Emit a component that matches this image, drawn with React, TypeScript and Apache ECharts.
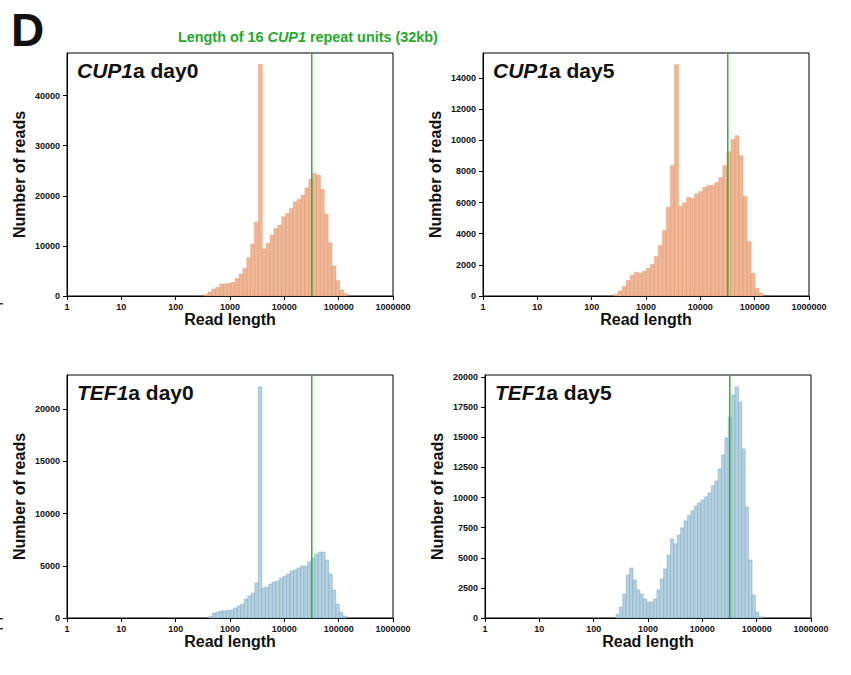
import React, { useEffect, useRef } from "react";
import * as echarts from "echarts";

// ---- data ----
const X_TICKS = [1, 10, 100, 1000, 10000, 100000, 1000000];
const CUP1_REPEAT_LENGTH = 32000; // 16 CUP1 repeat units (32kb)

// Histogram bins are uniform in log10(read length): first edge + bin step (log10 units)
const CUP1_DAY0_LOG_START = 2.525;
const CUP1_DAY0_LOG_STEP = 0.0713;
const CUP1_DAY0_COUNTS = [
  330, 800, 1400, 1730, 2390, 2390, 2520, 2720, 3520, 4380, 5510, 7640, 10360, 14740, 46200,
  9360, 10490, 12150, 13480, 14140, 15800, 16470, 17460, 18790, 19260, 20120, 21580, 23310,
  24440, 24100, 21310, 16330, 10620, 5980, 3050, 1200, 460,
];
const CUP1_DAY0_Y_TICKS = [0, 10000, 20000, 30000, 40000];
const CUP1_DAY0_Y_MAX = 48500;

const CUP1_DAY5_LOG_START = 2.411;
const CUP1_DAY5_LOG_STEP = 0.0742;
const CUP1_DAY5_COUNTS = [
  100, 320, 600, 1000, 1320, 1520, 1460, 1580, 1780, 2020, 2530, 3240, 4200, 5690, 8370, 14850,
  5750, 5980, 6330, 6260, 6560, 6700, 6970, 7090, 7090, 7290, 7610, 8370, 9270, 10050, 10290,
  9010, 6390, 3500, 1460, 490, 170,
];
const CUP1_DAY5_Y_TICKS = [0, 2000, 4000, 6000, 8000, 10000, 12000, 14000];
const CUP1_DAY5_Y_MAX = 15600;

const TEF1_DAY0_LOG_START = 2.614;
const TEF1_DAY0_LOG_STEP = 0.0648;
const TEF1_DAY0_COUNTS = [
  160, 480, 575, 670, 670, 730, 770, 960, 1150, 1340, 1820, 2110, 2390, 3350, 22130, 2870, 2970,
  3260, 3450, 3540, 3830, 4020, 4210, 4500, 4600, 4790, 4980, 4980, 5360, 5750, 6130, 6320, 6320,
  5560, 4210, 2680, 1340, 575, 190,
];
const TEF1_DAY0_Y_TICKS = [0, 5000, 10000, 15000, 20000];
const TEF1_DAY0_Y_MAX = 23270;

const TEF1_DAY5_LOG_START = 2.411;
const TEF1_DAY5_LOG_STEP = 0.0626;
const TEF1_DAY5_COUNTS = [
  300, 910, 1990, 3570, 4150, 3160, 2330, 1990, 1580, 1330, 1330, 1580, 2330, 3240, 4070, 5230,
  6560, 6150, 6890, 7480, 8060, 8500, 8890, 9300, 9550, 9800, 10050, 10380, 10970, 11380, 12380,
  13540, 14950, 16700, 18520, 19190, 17940, 14040, 9220, 4820, 1910, 500, 100,
];
const TEF1_DAY5_Y_TICKS = [0, 2500, 5000, 7500, 10000, 12500, 15000, 17500, 20000];
const TEF1_DAY5_Y_MAX = 20170;

// ---- styles / layout ----
const FONT = "'Liberation Sans', Arial, Helvetica, sans-serif";
const ORANGE = { fill: "#EDB899", edge: "rgba(226,125,72,0.55)" };
const BLUE = { fill: "#B5D1DF", edge: "rgba(112,160,190,0.7)" };
const GREEN_LINE = "#2BB43A";
const GREEN_TEXT = "#1FAA2D";

const PANELS = [
  { gene: "CUP1", rest: "a day0", logStart: CUP1_DAY0_LOG_START, logStep: CUP1_DAY0_LOG_STEP, counts: CUP1_DAY0_COUNTS, yTicks: CUP1_DAY0_Y_TICKS, yMax: CUP1_DAY0_Y_MAX, color: ORANGE, grid: { left: 67, top: 53, width: 326, height: 243 } },
  { gene: "CUP1", rest: "a day5", logStart: CUP1_DAY5_LOG_START, logStep: CUP1_DAY5_LOG_STEP, counts: CUP1_DAY5_COUNTS, yTicks: CUP1_DAY5_Y_TICKS, yMax: CUP1_DAY5_Y_MAX, color: ORANGE, grid: { left: 483, top: 53, width: 326, height: 243 } },
  { gene: "TEF1", rest: "a day0", logStart: TEF1_DAY0_LOG_START, logStep: TEF1_DAY0_LOG_STEP, counts: TEF1_DAY0_COUNTS, yTicks: TEF1_DAY0_Y_TICKS, yMax: TEF1_DAY0_Y_MAX, color: BLUE, grid: { left: 67, top: 375, width: 326, height: 243 } },
  { gene: "TEF1", rest: "a day5", logStart: TEF1_DAY5_LOG_START, logStep: TEF1_DAY5_LOG_STEP, counts: TEF1_DAY5_COUNTS, yTicks: TEF1_DAY5_Y_TICKS, yMax: TEF1_DAY5_Y_MAX, color: BLUE, grid: { left: 485, top: 375, width: 326, height: 243 } },
];

function buildOption() {
  const grid: any[] = [];
  const xAxis: any[] = [];
  const yAxis: any[] = [];
  const series: any[] = [];
  const title: any[] = [];

  title.push({
    text: "D",
    left: 11,
    top: 7,
    padding: 0,
    textStyle: { fontSize: 46, fontWeight: "bold", color: "#111", fontFamily: FONT },
  });
  title.push({
    text: "{n|Length of 16 }{i|CUP1}{n| repeat units (32kb)}",
    left: 178,
    top: 30,
    padding: 0,
    textStyle: {
      rich: {
        n: { fontSize: 14.4, fontWeight: "bold", color: GREEN_TEXT, fontFamily: FONT },
        i: { fontSize: 14.4, fontWeight: "bold", fontStyle: "italic", color: GREEN_TEXT, fontFamily: FONT },
      },
    },
  });

  PANELS.forEach((p, i) => {
    grid.push({ ...p.grid, show: true, borderColor: "#000", borderWidth: 1, backgroundColor: "transparent" });
    xAxis.push({
      type: "log",
      logBase: 10,
      gridIndex: i,
      min: 1,
      max: 1000000,
      name: "Read length",
      nameLocation: "middle",
      nameGap: 14,
      nameTextStyle: { fontSize: 16, fontWeight: "bold", color: "#111", fontFamily: FONT },
      axisLine: { show: true, lineStyle: { color: "#000", width: 1 } },
      axisTick: { show: true, length: 4, lineStyle: { color: "#000" }, customValues: X_TICKS },
      axisLabel: {
        customValues: X_TICKS,
        formatter: (v: number) => String(Math.round(v)),
        fontSize: 9,
        fontWeight: "bold",
        color: "#111",
        margin: 6,
        fontFamily: FONT,
      },
      splitLine: { show: false },
      minorTick: { show: false },
    });
    yAxis.push({
      type: "value",
      gridIndex: i,
      min: 0,
      max: p.yMax,
      name: "Number of reads",
      nameLocation: "middle",
      nameGap: 40,
      nameTextStyle: { fontSize: 16, fontWeight: "bold", color: "#111", fontFamily: FONT },
      axisLine: { show: true, lineStyle: { color: "#000", width: 1 } },
      axisTick: { show: true, length: 4, lineStyle: { color: "#000" }, customValues: p.yTicks },
      axisLabel: {
        customValues: p.yTicks,
        formatter: (v: number) => String(Math.round(v)),
        fontSize: 9,
        fontWeight: "bold",
        color: "#111",
        margin: 7,
        fontFamily: FONT,
      },
      splitLine: { show: false },
    });

    const data = p.counts.map((c, k) => [
      Math.pow(10, p.logStart + k * p.logStep),
      Math.pow(10, p.logStart + (k + 1) * p.logStep),
      c,
    ]);
    const fill = p.color.fill;
    const edge = p.color.edge;
    series.push({
      type: "custom",
      xAxisIndex: i,
      yAxisIndex: i,
      encode: { x: [0, 1], y: 2 },
      data,
      silent: true,
      renderItem: (params: any, api: any) => {
        const a = api.coord([api.value(0), api.value(2)]);
        const b = api.coord([api.value(1), 0]);
        return {
          type: "rect",
          shape: { x: a[0], y: a[1], width: b[0] - a[0], height: b[1] - a[1] },
          style: { fill, stroke: edge, lineWidth: 0.6 },
        };
      },
    });
    series.push({
      type: "line",
      xAxisIndex: i,
      yAxisIndex: i,
      data: [
        [CUP1_REPEAT_LENGTH, 0],
        [CUP1_REPEAT_LENGTH, p.yMax],
      ],
      symbol: "none",
      silent: true,
      lineStyle: { color: GREEN_LINE, width: 1.5 },
      z: 5,
    });

    title.push({
      text: `{i|${p.gene}}{n|${p.rest}}`,
      left: p.grid.left + 10,
      top: p.grid.top + 7,
      padding: 0,
      textStyle: {
        rich: {
          i: { fontSize: 21, fontWeight: "bold", fontStyle: "italic", color: "#111", fontFamily: FONT },
          n: { fontSize: 21, fontWeight: "bold", color: "#111", fontFamily: FONT },
        },
      },
    });
  });

  return {
    animation: false,
    backgroundColor: "#fff",
    title,
    grid,
    xAxis,
    yAxis,
    series,
    graphic: [
      { type: "rect", shape: { x: 0, y: 303, width: 3, height: 1.5 }, style: { fill: "#333" } },
      { type: "rect", shape: { x: 0, y: 618, width: 3, height: 1.5 }, style: { fill: "#333" } },
      { type: "rect", shape: { x: 0, y: 628, width: 3, height: 1.5 }, style: { fill: "#333" } },
    ],
  };
}

export default function App() {
  const ref = useRef<HTMLDivElement>(null);
  useEffect(() => {
    if (!ref.current) return;
    const chart = echarts.init(ref.current, undefined, { renderer: "svg" });
    chart.setOption(buildOption() as any);
    return () => chart.dispose();
  }, []);
  return (
    <div
      ref={ref}
      style={{ position: "absolute", left: 0, top: 0, width: 851, height: 675, background: "#fff" }}
    />
  );
}
